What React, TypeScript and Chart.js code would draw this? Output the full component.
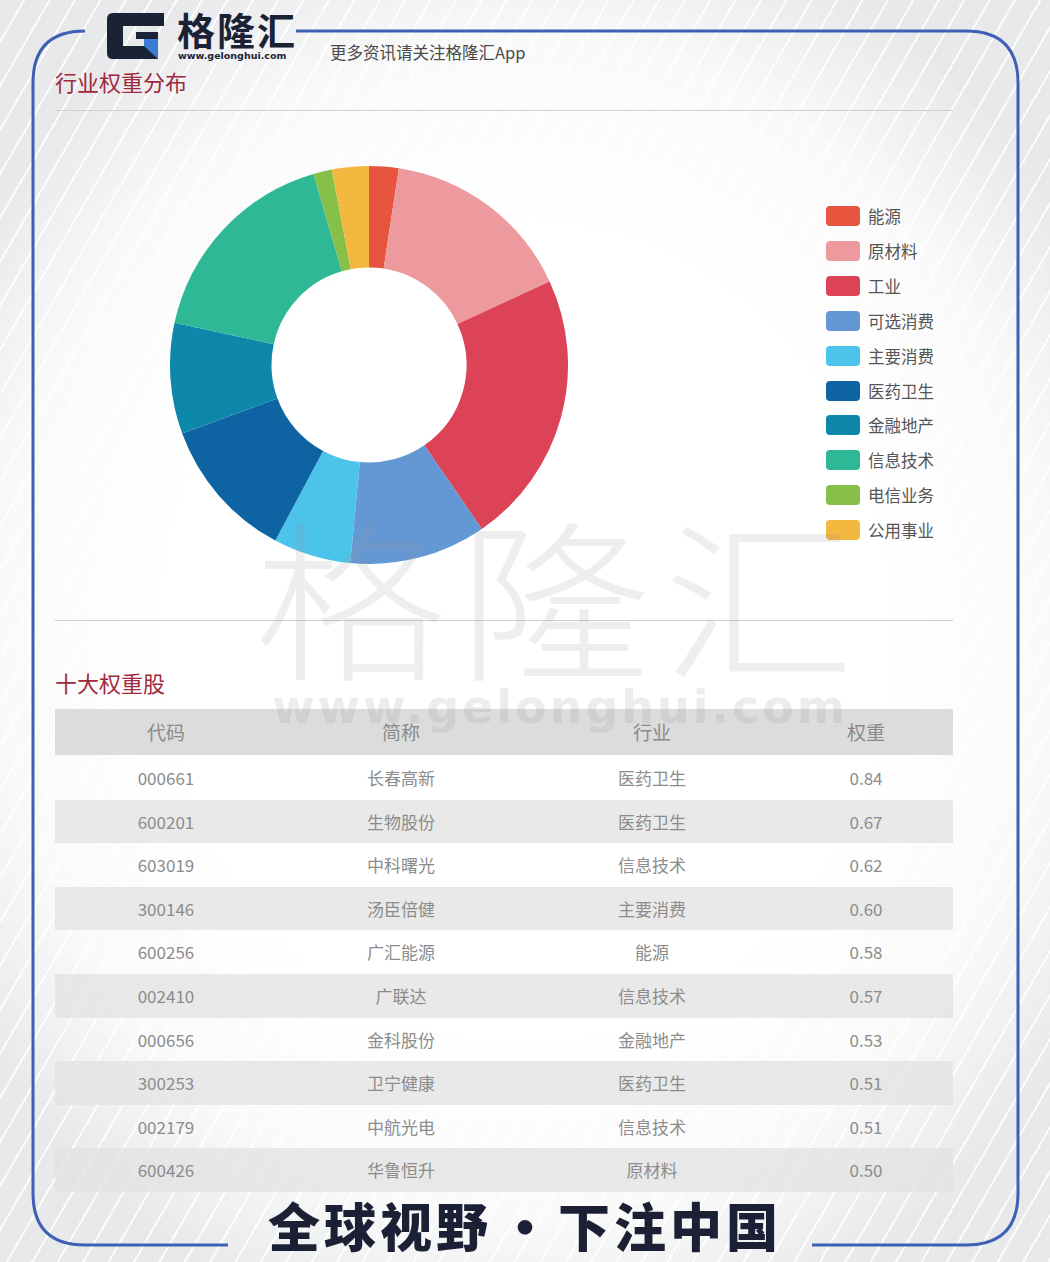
import React, { useEffect, useRef } from "react";
import { Chart, registerables } from "chart.js";

Chart.register(...registerables);

const sectors = ["能源", "原材料", "工业", "可选消费", "主要消费", "医药卫生", "金融地产", "信息技术", "电信业务", "公用事业"];
const sectorWeights = [2.4, 15.7, 22.3, 11.1, 6.3, 11.6, 9.0, 17.1, 1.5, 3.0];
const sectorColors = ["#e8553e", "#ec9a9e", "#dc4357", "#6498d4", "#4bc3ea", "#0e64a3", "#0e88aa", "#2eb895", "#86c049", "#f2b83f"];

const tableHeaders = ["代码", "简称", "行业", "权重"];
const stockCodes = ["000661", "600201", "603019", "300146", "600256", "002410", "000656", "300253", "002179", "600426"];
const stockNames = ["长春高新", "生物股份", "中科曙光", "汤臣倍健", "广汇能源", "广联达", "金科股份", "卫宁健康", "中航光电", "华鲁恒升"];
const stockSectors = ["医药卫生", "医药卫生", "信息技术", "主要消费", "能源", "信息技术", "金融地产", "医药卫生", "信息技术", "原材料"];
const stockWeights = ["0.84", "0.67", "0.62", "0.60", "0.58", "0.57", "0.53", "0.51", "0.51", "0.50"];

const FONT = '"Noto Sans CJK SC", "Noto Sans", sans-serif';

function Donut() {
  const ref = useRef<HTMLCanvasElement | null>(null);
  useEffect(() => {
    if (!ref.current) return;
    const chart = new Chart(ref.current, {
      type: "doughnut",
      data: {
        labels: sectors,
        datasets: [
          {
            data: sectorWeights,
            backgroundColor: sectorColors,
            borderWidth: 0,
          },
        ],
      },
      options: {
        responsive: false,
        animation: false,
        cutout: "49%",
        layout: { padding: 0 },
        plugins: { legend: { display: false }, tooltip: { enabled: false } },
      },
    });
    return () => chart.destroy();
  }, []);
  return <canvas ref={ref} width={398} height={402} style={{ position: "absolute", left: 170, top: 164, width: 398, height: 402 }} />;
}

const colCenters = [111, 346, 597, 811];

export default function App() {
  const rowH = 43.6;
  const rows = stockCodes.map((c, i) => [c, stockNames[i], stockSectors[i], stockWeights[i]]);
  return (
    <div
      style={{
        position: "absolute",
        left: 0,
        top: 0,
        width: 1050,
        height: 1262,
        overflow: "hidden",
        fontFamily: FONT,
        background: "#dcdde0",
      }}
    >
      {/* stripes */}
      <div
        style={{
          position: "absolute",
          inset: 0,
          background:
            "repeating-linear-gradient(120deg, rgba(255,255,255,0) 0px, rgba(255,255,255,0) 20px, rgba(255,255,255,0.85) 20px, rgba(255,255,255,0.85) 22px)",
        }}
      />
      {/* whitish glow */}
      <div
        style={{
          position: "absolute",
          inset: 0,
          background:
            "radial-gradient(ellipse 62% 58% at 50% 50%, rgba(255,255,255,1) 55%, rgba(255,255,255,0.85) 80%, rgba(255,255,255,0.35) 100%)",
        }}
      />
      {/* frame */}
      <svg width={1050} height={1262} style={{ position: "absolute", left: 0, top: 0 }}>
        <path d="M 85 31 Q 33 31 33 83 V 1193 Q 33 1245 85 1245 H 228" stroke="#3d5fb4" strokeWidth={3} fill="none" />
        <path d="M 296 31 H 966 Q 1018 31 1018 83 V 1193 Q 1018 1245 966 1245 H 812" stroke="#3d5fb4" strokeWidth={3} fill="none" />
      </svg>
      {/* logo */}
      <svg width={62} height={48} style={{ position: "absolute", left: 106, top: 12 }}>
        <path d="M7 1 H58 V14 H17 V34 H38 V27 H30 V20 H52 V47 H7 Q1 47 1 41 V7 Q1 1 7 1 Z" fill="#1b2236" />
        <path d="M38 27 H52 V47 L38 34 Z" fill="#3a7bd5" />
      </svg>
      <div
        style={{
          position: "absolute",
          left: 177,
          top: 11,
          fontSize: 38,
          fontWeight: 700,
          color: "#1b2236",
          lineHeight: "36px",
          letterSpacing: 2,
          whiteSpace: "nowrap",
        }}
      >
        格隆汇
      </div>
      <div
        style={{
          position: "absolute",
          left: 178,
          top: 51,
          fontSize: 9.5,
          fontWeight: 700,
          color: "#1b2236",
          fontFamily: '"DejaVu Sans", sans-serif',
          lineHeight: "10px",
          whiteSpace: "nowrap",
        }}
      >
        www.gelonghui.com
      </div>
      <div
        style={{ position: "absolute", left: 330, top: 41, fontSize: 16.5, color: "#4a4a4a", lineHeight: "22px", whiteSpace: "nowrap" }}
      >
        更多资讯请关注格隆汇App
      </div>
      {/* section 1 */}
      <div style={{ position: "absolute", left: 55, top: 66, fontSize: 22, color: "#9e2a3e", lineHeight: "30px", whiteSpace: "nowrap" }}>
        行业权重分布
      </div>
      <div style={{ position: "absolute", left: 55, top: 110, width: 898, height: 1, background: "#cfcfcf" }} />
      <Donut />
      {/* legend */}
      {sectors.map((s, i) => (
        <div key={s} style={{ position: "absolute", left: 826, top: 216 + i * 34.9 - 11, height: 22, display: "flex", alignItems: "center" }}>
          <div style={{ width: 34, height: 20, borderRadius: 4, background: sectorColors[i] }} />
          <div style={{ marginLeft: 8, fontSize: 16.5, color: "#555", lineHeight: "22px", whiteSpace: "nowrap" }}>{s}</div>
        </div>
      ))}
      <div style={{ position: "absolute", left: 55, top: 620, width: 898, height: 1, background: "#cfcfcf" }} />
      {/* section 2 */}
      <div style={{ position: "absolute", left: 55, top: 667, fontSize: 22, color: "#9e2a3e", lineHeight: "30px", whiteSpace: "nowrap" }}>
        十大权重股
      </div>
      <div style={{ position: "absolute", left: 55, top: 709, width: 898, height: 46, background: "#dcdcdc" }}>
        {tableHeaders.map((h, j) => (
          <div
            key={h}
            style={{ position: "absolute", left: colCenters[j] - 100, width: 200, top: 11, height: 24, lineHeight: "24px", textAlign: "center", fontSize: 19, color: "#8a8a8a" }}
          >
            {h}
          </div>
        ))}
      </div>
      {rows.map((r, i) => (
        <div
          key={i}
          style={{
            position: "absolute",
            left: 55,
            top: 756 + i * rowH,
            width: 898,
            height: rowH,
            background: i % 2 === 1 ? "rgba(225,225,225,0.75)" : "rgba(255,255,255,0.0)",
          }}
        >
          {r.map((v, j) => (
            <div
              key={j}
              style={{
                position: "absolute",
                left: colCenters[j] - 100,
                width: 200,
                top: 0,
                height: rowH,
                lineHeight: rowH + "px",
                textAlign: "center",
                fontSize: 17,
                color: "#8c8c8c",
              }}
            >
              {v}
            </div>
          ))}
        </div>
      ))}
      {/* watermark */}
      <div
        style={{
          position: "absolute",
          left: 250,
          top: 512,
          width: 620,
          height: 160,
          fontSize: 172,
          lineHeight: "160px",
          color: "rgba(150,150,150,0.16)",
          fontWeight: 300,
          letterSpacing: 10,
          textAlign: "center",
          whiteSpace: "nowrap",
          pointerEvents: "none",
          transform: "scaleX(1.12)",
        }}
      >
        格隆汇
      </div>
      <div
        style={{
          position: "absolute",
          left: 250,
          top: 694,
          width: 620,
          height: 26,
          fontSize: 46,
          lineHeight: "26px",
          fontWeight: 700,
          color: "rgba(150,150,150,0.18)",
          fontFamily: '"DejaVu Sans", sans-serif',
          textAlign: "center",
          whiteSpace: "nowrap",
          letterSpacing: 3,
          pointerEvents: "none",
        }}
      >
        www.gelonghui.com
      </div>
      {/* footer */}
      <div
        style={{
          position: "absolute",
          left: 0,
          width: 1050,
          top: 1195,
          textAlign: "center",
          fontSize: 52,
          fontWeight: 900,
          color: "#1c2035",
          lineHeight: "60px",
          letterSpacing: 4,
          whiteSpace: "nowrap",
        }}
      >
        <span>全球视野</span>
        <span style={{ display: "inline-block", width: 66, textAlign: "center", letterSpacing: 0 }}>·</span>
        <span>下注中国</span>
      </div>
    </div>
  );
}
